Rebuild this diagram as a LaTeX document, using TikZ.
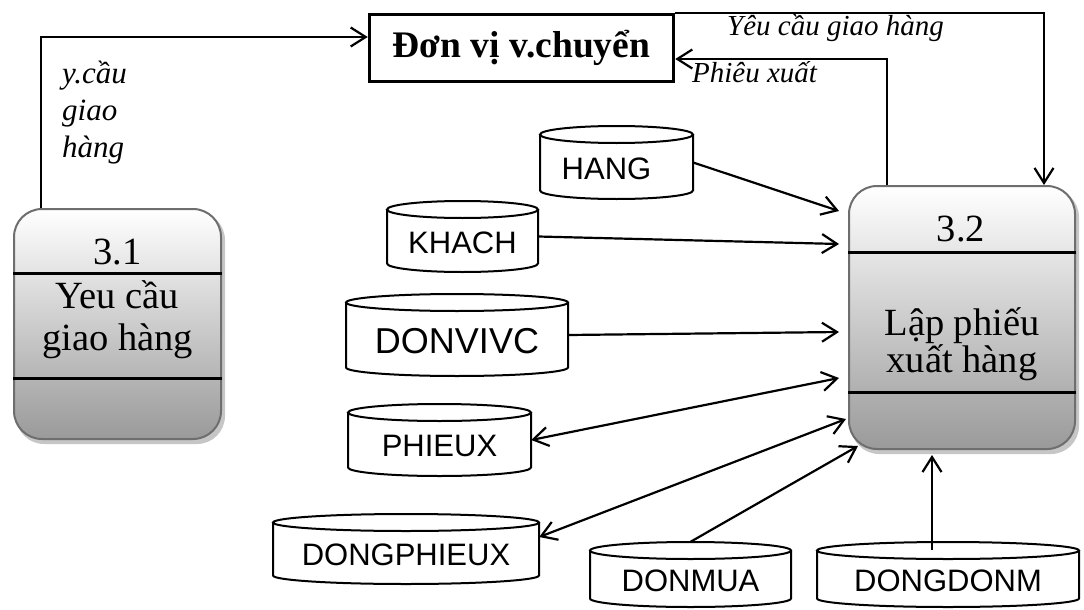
\documentclass[tikz,border=0pt]{standalone}
\usepackage{fontspec}
\setmainfont{Liberation Serif}
\newfontfamily\arialfont{Liberation Sans}
\usetikzlibrary{arrows.meta,calc,backgrounds}

\definecolor{procborder}{HTML}{6E6E6E}
\definecolor{procbottom}{HTML}{9A9A9A}
\definecolor{procshadow}{HTML}{C6C6C6}

\tikzset{
  barb/.tip={Straight Barb[length=15pt,width=19pt]},
  flow/.style={line width=2.2pt, -barb},
  flowboth/.style={line width=2.2pt, barb-barb},
  unitbox/.style={draw, line width=3.5pt, minimum width=304pt, minimum height=67pt,
    inner sep=0pt, font=\fontsize{37.5}{44}\selectfont\bfseries},
  procbox/.style={draw=procborder, line width=2pt, rounded corners=28pt,
    top color=white, bottom color=procbottom, inner sep=0pt},
  procshade/.style={fill=procshadow, rounded corners=28pt},
  sepline/.style={line width=3pt},
  proctext/.style={anchor=base, inner sep=0pt, font=\fontsize{38.5}{45}\selectfont},
  flowlabel/.style={anchor=base west, inner sep=0pt, font=\fontsize{29}{35}\selectfont\itshape},
  sidelabel/.style={anchor=base west, inner sep=0pt, font=\fontsize{31}{37}\selectfont\itshape},
  storebox/.style={draw=none, inner sep=0pt},
  storeline/.style={line width=2pt},
  storetext/.style={inner sep=0pt, font=\arialfont\fontsize{31}{37}\selectfont},
  storebig/.style={font=\arialfont\fontsize{36}{43}\selectfont},
}

% data store: name, centre x, centre y, width, height, text, extra text style
\newcommand\datastore[7]{%
  \node[storebox, minimum width=#4pt, minimum height=#5pt] (#1) at (#2,#3) {};
  \draw[storeline] (#2-#4/2,#3-#5/2+8.5) -- (#2-#4/2,#3+#5/2-8.5)
    arc[start angle=180, end angle=360, x radius=#4*0.5pt, y radius=8.5pt]
    -- (#2+#4/2,#3-#5/2+8.5);
  \draw[storeline] (#2,#3-#5/2+8.5) ellipse[x radius=#4*0.5pt, y radius=8.5pt];
  \node[storetext, #7] (#1-label) at (#2,#3+6) {#6};
}

\begin{document}
\begin{tikzpicture}[x=1pt, y=-1pt]
\useasboundingbox (0,0) rectangle (1084,610);

% external entity
\node[unitbox] (dv) at (521.5,48) {Đơn vị v.chuyển};

% processes
\node[procbox, minimum width=207pt, minimum height=230pt] (p1) at (117.5,324) {};
\node[procbox, minimum width=226pt, minimum height=263pt] (p2) at (962,317.5) {};
\begin{scope}[on background layer]
  \fill[procshade] ($(p1.north west)+(3,4)$) rectangle ($(p1.south east)+(3,4)$);
  \fill[procshade] ($(p2.north west)+(3,4)$) rectangle ($(p2.south east)+(3,4)$);
\end{scope}
\draw[sepline] ($(p1.west)+(0,-51)$) -- ($(p1.east)+(0,-51)$);
\draw[sepline] ($(p1.west)+(0,54)$) -- ($(p1.east)+(0,54)$);
\draw[sepline] ($(p2.west)+(0,-65.5)$) -- ($(p2.east)+(0,-65.5)$);
\draw[sepline] ($(p2.west)+(0,74.5)$) -- ($(p2.east)+(0,74.5)$);

\node[proctext] (p1num) at (117.5,264) {3.1};
\node[proctext] (p1a) at (117.5,308) {Yeu cầu};
\node[proctext] (p1b) at (117.5,350) {giao hàng};
\node[proctext] (p2num) at (961,241) {3.2};
\node[proctext] (p2a) at (962,335) {Lập phiếu};
\node[proctext] (p2b) at (962,372) {xuất hàng};

% data stores
\datastore{hang}{616.5}{162.5}{153}{73}{HANG}{xshift=-10pt}
\datastore{khach}{462.5}{236.5}{151}{71}{KHACH}{}
\datastore{dvvc}{457}{335}{222}{82}{DONVIVC}{storebig}
\datastore{phieux}{439.5}{440}{183}{72}{PHIEUX}{}
\datastore{dph}{406}{549}{266}{70}{DONGPHIEUX}{}
\datastore{donmua}{690.5}{574.5}{201}{65}{DONMUA}{}
\datastore{dongdonm}{948}{574.5}{262}{65}{DONGDONM}{}

% flows to and from the transport unit
\draw[flow] ($(p1.north west)+(28,0)$) |- ($(dv.west)+(0,-11)$);
\draw[flow] (dv.north east) -| ($(p2.north east)+(-32,0)$);
\draw[flow] ($(p2.north west)+(39,0)$) |- ($(dv.east)+(0,11)$);

\node[sidelabel] (l1) at (62,83) {y.cầu};
\node[sidelabel] (l2) at (62,120) {giao};
\node[sidelabel] (l3) at (62,157) {hàng};
\node[flowlabel] (l4) at (727,36) {Yêu cầu giao hàng};
\node[flowlabel] (l5) at (692,82) {Phiêu xuất};

% flows between stores and process 3.2
\draw[flow] (hang.east) -- ($(p2.north west)+(-9,26)$);
\draw[flow] (khach.east) -- ($(p2.north west)+(-9,59)$);
\draw[flow] (dvvc.east) -- ($(p2.west)+(-9,14.5)$);
\draw[flowboth] (phieux.east) -- ($(p2.west)+(-9,60.5)$);
\draw[flowboth] ($(dph.east)+(0,-12)$) -- ($(p2.south west)+(-2,-31)$);
\draw[flow] (donmua.north) -- ($(p2.south west)+(10,-4)$);
\draw[flow] ($(dongdonm.north)+(-16,8)$) -- ($(p2.south)+(-30,5)$);
\end{tikzpicture}
\end{document}
